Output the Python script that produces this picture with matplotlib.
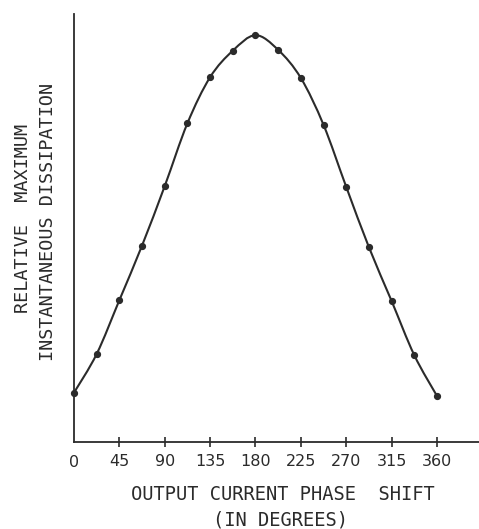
import matplotlib
matplotlib.use("Agg")
import matplotlib.pyplot as plt
from matplotlib.path import Path
from matplotlib.patches import PathPatch

# Phase shift (degrees) and relative maximum instantaneous dissipation
phase_deg = [0, 22.5, 45, 67.5, 90, 112.5, 135, 157.5, 180,
             202.5, 225, 247.5, 270, 292.5, 315, 337.5, 360]
dissipation = [0.121, 0.216, 0.348, 0.482, 0.628, 0.782, 0.895, 0.960, 0.998,
               0.962, 0.893, 0.778, 0.626, 0.478, 0.346, 0.213, 0.113]
xticks = [0, 45, 90, 135, 180, 225, 270, 315, 360]
xtick_labels = ["0", "45", "90", "135", "180", "225", "270", "315", "360"]

INK = "#2b2b2b"
LETTERING = ["DejaVu Sans Mono", "DejaVu Sans"]
plt.rcParams["font.family"] = ["DejaVu Sans"]

fig = plt.figure(figsize=(4.79, 5.29), dpi=100)
ax = fig.add_axes([0.1545, 0.1645, 0.8455, 0.809])
ax.set_xlim(0, 401.7)
ax.set_ylim(0, 1.05)

# smooth curve through the measured points (Catmull-Rom as cubic Bezier)
pts = list(zip(phase_deg, dissipation))
verts = [pts[0]]
codes = [Path.MOVETO]
n = len(pts)
for i in range(n - 1):
    p0 = pts[i - 1] if i > 0 else pts[i]
    p1 = pts[i]
    p2 = pts[i + 1]
    p3 = pts[i + 2] if i + 2 < n else pts[i + 1]
    c1 = (p1[0] + (p2[0] - p0[0]) / 6, p1[1] + (p2[1] - p0[1]) / 6)
    c2 = (p2[0] - (p3[0] - p1[0]) / 6, p2[1] - (p3[1] - p1[1]) / 6)
    verts += [c1, c2, p2]
    codes += [Path.CURVE4] * 3
ax.add_patch(PathPatch(Path(verts, codes), fill=False, edgecolor=INK,
                       lw=1.5, clip_on=False))
ax.plot(phase_deg, dissipation, ls="none", marker="o", ms=4.2, color=INK,
        clip_on=False)

for side in ("top", "right"):
    ax.spines[side].set_visible(False)
for side in ("left", "bottom"):
    ax.spines[side].set_color(INK)
    ax.spines[side].set_linewidth(1.3)

ax.set_yticks([])
ax.set_xticks(xticks[1:])
ax.set_xticklabels(xtick_labels[1:], fontsize=11.5, color=INK)
ax.tick_params(axis="x", direction="inout", length=7, width=1.2, color=INK, pad=5)
ax.text(0, -0.03, xtick_labels[0], transform=ax.get_xaxis_transform(),
        ha="center", va="top", fontsize=11.5, color=INK)

fig.text(0.590, 0.066, "OUTPUT CURRENT PHASE  SHIFT", ha="center", va="center",
         fontsize=13.5, color=INK, family=LETTERING)
fig.text(0.585, 0.017, "(IN DEGREES)", ha="center", va="center",
         fontsize=13.5, color=INK, family=LETTERING)
fig.text(0.048, 0.588, "RELATIVE  MAXIMUM", rotation=90, ha="center",
         va="center", fontsize=13.3, color=INK, family=LETTERING)
fig.text(0.100, 0.580, "INSTANTANEOUS DISSIPATION", rotation=90, ha="center",
         va="center", fontsize=13.3, color=INK, family=LETTERING)

fig.savefig("out.png", dpi=100, facecolor="white")
